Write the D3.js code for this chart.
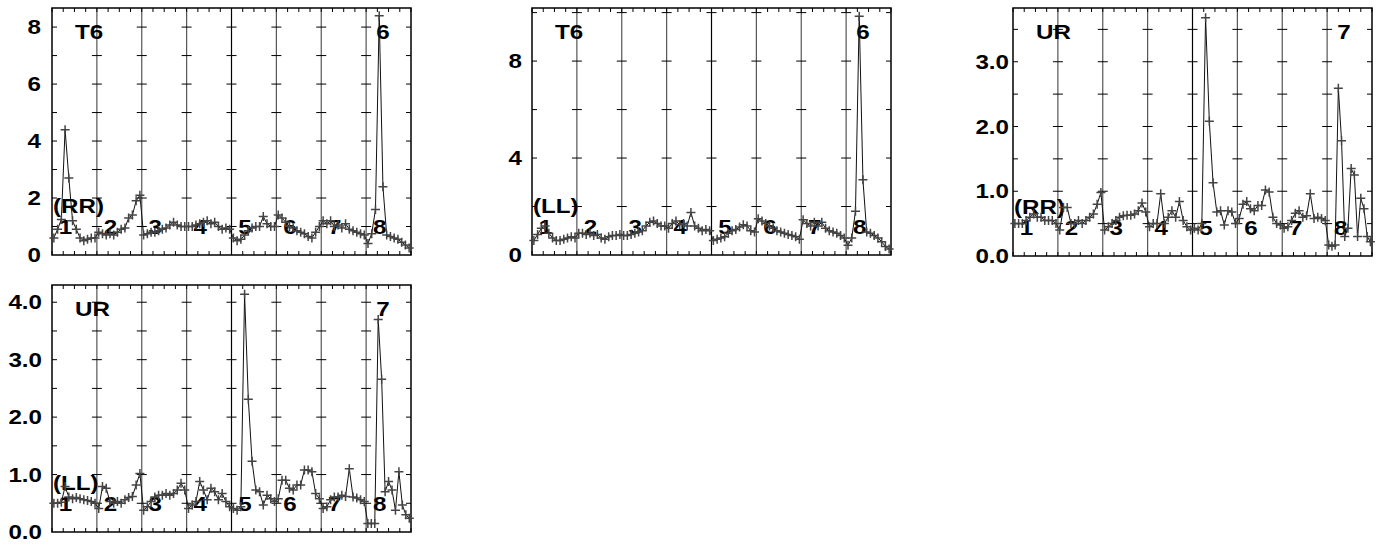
<!DOCTYPE html>
<html>
<head>
<meta charset="utf-8">
<script src="https://cdn.jsdelivr.net/npm/d3@7"></script>
<style>
  html, body { margin: 0; padding: 0; background: #fff; }
  svg { display: block; }
  text { font-family: "Liberation Sans", Arial, sans-serif; font-weight: bold; fill: #000; font-size: 21px; }
</style>
</head>
<body>
<svg id="chart" width="1382" height="548"></svg>
<script>
// ---------------- DATA ----------------
const segmentLabels = ["1", "2", "3", "4", "5", "6", "7", "8"];
const panelNames   = ["T6", "T6", "UR", "UR"];
const sideLabels   = ["(RR)", "(LL)", "(RR)", "(LL)"];
const peakLabels   = ["6", "6", "7", "7"];

const yTickLabels1 = ["0", "2", "4", "6", "8"];
const yTickLabels2 = ["0", "4", "8"];
const yTickLabels3 = ["0.0", "1.0", "2.0", "3.0"];
const yTickLabels4 = ["0.0", "1.0", "2.0", "3.0", "4.0"];

// series: one array per segment (1..8)
const t6RR = [
  [0.6, 0.9, 1.25, 4.4, 2.7, 1.2, 0.9, 0.6, 0.5, 0.55, 0.6, 0.6],
  [0.8, 0.75, 0.7, 0.75, 0.7, 0.8, 0.9, 0.95, 1.3, 1.4, 1.9, 2.1],
  [0.7, 0.75, 0.8, 0.8, 0.85, 0.9, 0.95, 1.05, 1.15, 1.05, 1.0, 1.0],
  [1.0, 1.0, 1.05, 1.1, 1.15, 1.2, 1.1, 1.15, 1.0, 0.9, 0.95, 0.9],
  [0.6, 0.5, 0.55, 0.7, 0.85, 0.95, 1.0, 1.0, 1.35, 1.1, 1.0, 1.0],
  [1.4, 1.3, 1.15, 1.0, 0.95, 0.85, 0.8, 0.75, 0.65, 0.6, 0.8, 1.0],
  [1.2, 1.1, 1.2, 1.0, 1.05, 0.95, 1.1, 0.9, 0.85, 0.8, 0.75, 0.7],
  [0.4, 0.75, 1.6, 8.4, 2.4, 0.7, 0.65, 0.6, 0.55, 0.45, 0.35, 0.25]
];
const t6LL = [
  [0.6, 0.85, 1.1, 1.2, 0.9, 0.7, 0.6, 0.6, 0.65, 0.7, 0.75, 0.7],
  [0.9, 0.9, 0.85, 0.9, 0.8, 0.85, 0.7, 0.65, 0.75, 0.8, 0.8, 0.85],
  [0.8, 0.8, 0.85, 0.9, 0.95, 1.0, 1.2, 1.35, 1.4, 1.3, 1.2, 1.2],
  [1.1, 1.3, 1.4, 1.25, 1.3, 1.2, 1.75, 1.2, 1.1, 1.0, 1.05, 1.0],
  [0.6, 0.65, 0.7, 0.75, 0.9, 1.0, 1.05, 1.15, 1.25, 1.2, 1.0, 0.95],
  [1.5, 1.4, 1.3, 1.2, 1.1, 1.0, 0.95, 0.9, 0.85, 0.8, 0.75, 0.65],
  [1.45, 1.3, 1.2, 1.35, 1.2, 1.35, 1.1, 1.0, 0.95, 0.9, 0.8, 0.7],
  [0.4, 0.7, 1.8, 9.85, 3.1, 0.95, 0.9, 0.8, 0.7, 0.55, 0.35, 0.25]
];
const urRR = [
  [0.5, 0.5, 0.5, 0.55, 0.6, 0.65, 0.6, 0.6, 0.55, 0.55, 0.55, 0.5],
  [0.4, 0.75, 0.75, 0.5, 0.5, 0.55, 0.5, 0.55, 0.6, 0.65, 0.8, 0.98],
  [0.4, 0.45, 0.5, 0.55, 0.6, 0.62, 0.63, 0.63, 0.65, 0.7, 0.82, 0.68],
  [0.45, 0.5, 0.5, 0.96, 0.5, 0.6, 0.7, 0.6, 0.84, 0.55, 0.45, 0.4],
  [0.43, 0.4, 0.5, 3.68, 2.08, 1.13, 0.68, 0.7, 0.48, 0.7, 0.68, 0.5],
  [0.58, 0.8, 0.84, 0.73, 0.7, 0.78, 0.78, 1.02, 0.99, 0.6, 0.5, 0.48],
  [0.43, 0.45, 0.55, 0.66, 0.7, 0.6, 0.62, 0.96, 0.58, 0.6, 0.58, 0.55],
  [0.17, 0.15, 0.17, 2.59, 1.78, 0.3, 0.43, 1.35, 1.25, 0.3, 0.89, 0.73, 0.3, 0.22]
];
const urLL = [
  [0.5, 0.5, 0.52, 0.79, 0.61, 0.58, 0.6, 0.58, 0.56, 0.55, 0.53, 0.5],
  [0.41, 0.79, 0.76, 0.53, 0.5, 0.53, 0.5, 0.56, 0.6, 0.62, 0.82, 1.02],
  [0.38, 0.44, 0.53, 0.61, 0.64, 0.64, 0.67, 0.64, 0.67, 0.73, 0.85, 0.73],
  [0.41, 0.47, 0.53, 0.88, 0.73, 0.56, 0.76, 0.7, 0.56, 0.67, 0.53, 0.44],
  [0.41, 0.38, 0.44, 4.14, 2.31, 1.23, 0.73, 0.7, 0.47, 0.64, 0.58, 0.53],
  [0.58, 0.9, 0.9, 0.76, 0.73, 0.82, 0.82, 1.08, 1.08, 1.05, 0.67, 0.58],
  [0.41, 0.44, 0.56, 0.61, 0.61, 0.64, 0.62, 1.1, 0.61, 0.59, 0.56, 0.53],
  [0.15, 0.15, 0.15, 3.7, 2.66, 0.7, 0.88, 0.73, 0.38, 1.05, 0.47, 0.3, 0.24]
];

// ---------------- LAYOUT ----------------
const panels = [
  { series: t6RR, ticks: yTickLabels1, x0: 52,   x1: 411,  y0: 8,   y1: 255, ymax: 8.67,  cross: 1,   gap: 11 },
  { series: t6LL, ticks: yTickLabels2, x0: 532,  x1: 891,  y0: 8,   y1: 255, ymax: 10.19, cross: 2,   gap: 10 },
  { series: urRR, ticks: yTickLabels3, x0: 1013, x1: 1372, y0: 8,   y1: 256, ymax: 3.83,  cross: 0.5, gap: 4 },
  { series: urLL, ticks: yTickLabels4, x0: 52,   x1: 411,  y0: 285, y1: 532, ymax: 4.3,   cross: 0.5, gap: 10 }
];
const SX = 1.15; // horizontal stretch of the text

const svg = d3.select("#chart");
const nSeg = segmentLabels.length;

function addText(g, x, y, str, anchor) {
  g.append("text")
    .attr("transform", `translate(${x},${y}) scale(${SX},1)`)
    .attr("text-anchor", anchor || "start")
    .text(str);
}

panels.forEach((p, pi) => {
  const x = d3.scaleLinear().domain([0, nSeg]).range([p.x0, p.x1]);
  const y = d3.scaleLinear().domain([0, p.ymax]).range([p.y1, p.y0]);
  const g = svg.append("g");

  // vertical segment separators
  d3.range(1, nSeg).forEach(k => {
    g.append("line")
      .attr("x1", x(k)).attr("x2", x(k))
      .attr("y1", p.y0).attr("y2", p.y1)
      .attr("stroke", k === 4 ? "#000" : "#555")
      .attr("stroke-width", 1.2);
  });

  // cross ticks at y values on every separator + inner ticks on edges
  const crossVals = d3.range(p.cross, p.ymax, p.cross).filter(v => y(v) > p.y0 + 2);
  crossVals.forEach(v => {
    d3.range(1, nSeg).forEach(k => {
      g.append("line")
        .attr("x1", x(k) - 5).attr("x2", x(k) + 5)
        .attr("y1", y(v)).attr("y2", y(v))
        .attr("stroke", "#000").attr("stroke-width", 1);
    });
    g.append("line").attr("x1", p.x0).attr("x2", p.x0 + 5)
      .attr("y1", y(v)).attr("y2", y(v)).attr("stroke", "#000");
    g.append("line").attr("x1", p.x1 - 5).attr("x2", p.x1)
      .attr("y1", y(v)).attr("y2", y(v)).attr("stroke", "#000");
  });

  // top / bottom minor ticks
  const xt = d3.range(0, nSeg + 0.001, 0.25);
  xt.forEach(t => {
    g.append("line").attr("x1", x(t)).attr("x2", x(t))
      .attr("y1", p.y0).attr("y2", p.y0 + 4).attr("stroke", "#000");
    g.append("line").attr("x1", x(t)).attr("x2", x(t))
      .attr("y1", p.y1).attr("y2", p.y1 - 4).attr("stroke", "#000");
  });

  // frame
  g.append("rect")
    .attr("x", p.x0).attr("y", p.y0)
    .attr("width", p.x1 - p.x0).attr("height", p.y1 - p.y0)
    .attr("fill", "none").attr("stroke", "#000").attr("stroke-width", 1.5);

  // y-axis labels through d3 axis
  const axis = d3.axisLeft(y)
    .tickValues(p.ticks.map(Number))
    .tickFormat((d, i) => p.ticks[i])
    .tickSize(0).tickPadding(p.gap);
  const ag = g.append("g").attr("transform", `translate(${p.x0},0)`).call(axis);
  ag.select(".domain").remove();
  ag.attr("font-family", null).attr("font-size", null);
  ag.selectAll("text")
    .attr("x", null)
    .attr("transform", `translate(${-p.gap},0) scale(${SX},1)`)
    .attr("fill", "#000");

  // build point list
  const pts = [];
  p.series.forEach((seg, k) => {
    seg.forEach((v, i) => pts.push({ x: k + (i + 0.5) / seg.length, v }));
  });

  // segment labels
  segmentLabels.forEach((lab, k) => addText(g, x(k + 0.3), p.y1 - 21, lab, "middle"));

  // panel labels
  addText(g, p.x0 + 23, p.y0 + 31, panelNames[pi]);
  addText(g, x(7) + 10, p.y0 + 31, peakLabels[pi]);
  addText(g, p.x0 + 1, p.y1 - 42, sideLabels[pi]);

  // line
  const line = d3.line().x(d => x(d.x)).y(d => y(d.v));
  g.append("path").datum(pts)
    .attr("d", line)
    .attr("fill", "none").attr("stroke", "#111").attr("stroke-width", 1);

  // plus markers
  g.selectAll(".m").data(pts).enter().append("path")
    .attr("d", d => {
      const cx = x(d.x), cy = y(d.v);
      return `M${cx - 4.5},${cy}H${cx + 4.5}M${cx},${cy - 4.5}V${cy + 4.5}`;
    })
    .attr("stroke", "#444").attr("stroke-width", 1.5).attr("fill", "none");
});
</script>
</body>
</html>
